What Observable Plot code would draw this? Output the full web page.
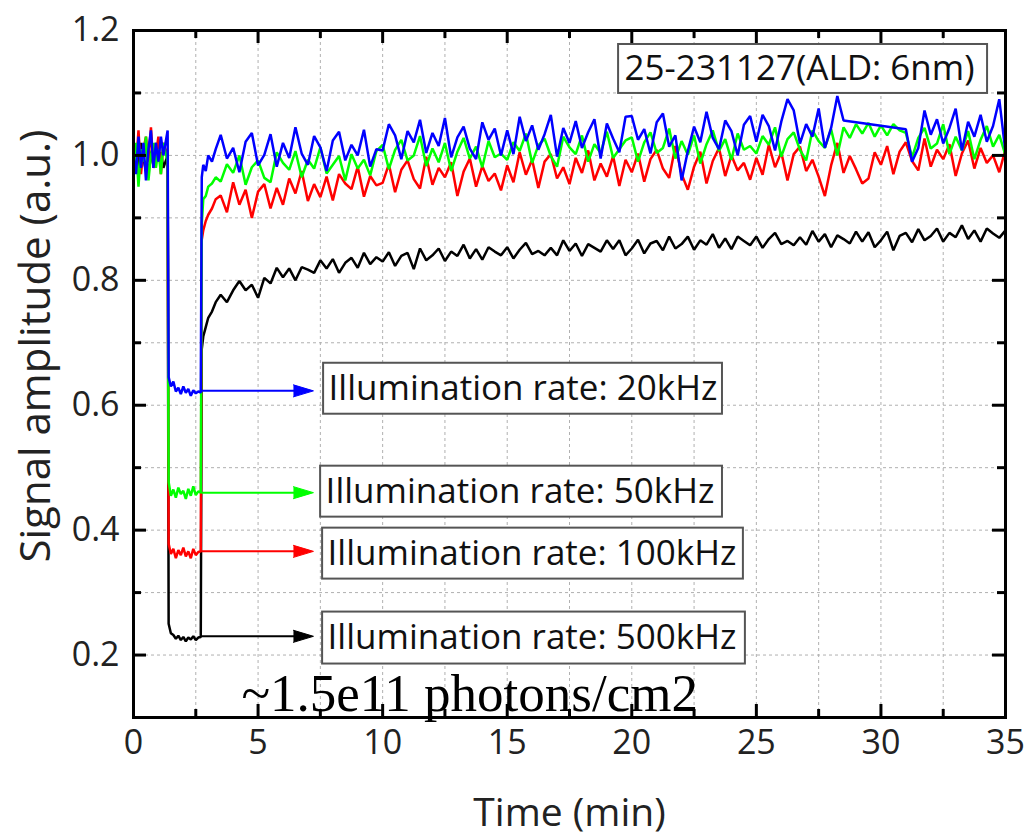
<!DOCTYPE html>
<html><head><meta charset="utf-8">
<script src="https://cdn.jsdelivr.net/npm/d3@7"></script>
<script src="https://cdn.jsdelivr.net/npm/@observablehq/plot@0.6"></script>
<style>body{margin:0;background:#fff}</style>
</head><body><div id="chart"></div>
<script>
// ---- time axis (min) ----
const time = [
  0,0.1,0.2,0.3,0.4,0.5,0.6,0.7,0.8,0.9,1,1.1,1.2,1.37,
  1.41,1.5,1.6,1.7,1.8,1.9,2.0,2.1,2.2,2.3,2.4,2.5,2.6,2.7,
  2.74,2.8,2.9,3.0,3.15,3.3,
  3.5,3.75,4,4.25,4.5,4.75,5,5.25,5.5,5.75,6,6.25,6.5,6.75,7,7.25,7.5,7.75,8,8.25,8.5,8.75,9,9.25,9.5,9.75,
  10,10.25,10.5,10.75,11,11.25,11.5,11.75,12,12.25,12.5,12.75,13,13.25,13.5,13.75,14,14.25,14.5,14.75,
  15,15.25,15.5,15.75,16,16.25,16.5,16.75,17,17.25,17.5,17.75,18,18.25,18.5,18.75,19,19.25,19.5,19.75,
  20,20.25,20.5,20.75,21,21.25,21.5,21.75,22,22.25,22.5,22.75,23,23.25,23.5,23.75,24,24.25,24.5,24.75,
  25,25.25,25.5,25.75,26,26.25,26.5,26.75,27,27.25,27.5,27.75,28,28.25,28.5,28.75,29,29.25,29.5,29.75,
  30,30.25,30.5,30.75,31,31.25,31.5,31.75,32,32.25,32.5,32.75,33,33.25,33.5,33.75,34,34.25,34.5,34.75,35
];

// ---- signal amplitude (a.u.) per illumination rate ----
const rate20k = [
  1.00,0.97,1.03,0.98,1.02,0.96,1.01,1.04,0.98,1.02,0.99,1.03,1.00,1.04,
  0.645,0.630,0.638,0.622,0.628,0.618,0.630,0.620,0.626,0.615,0.624,0.619,0.622,0.620,
  0.965,0.985,0.975,1.00,0.99,1.01,
  1.033,0.995,1.012,0.973,1.022,1.036,0.984,1.001,1.034,0.982,1.02,0.996,1.045,1.003,0.985,1.031,1.013,0.975,1.024,1.038,0.992,1.017,1.0,1.041,0.982,1.01,
  1.008,1.05,1.032,0.994,1.039,1.021,1.057,1.004,1.036,1.015,1.06,0.997,1.029,1.046,1.011,0.994,1.053,1.025,1.043,1.0,
  1.04,1.002,1.062,1.023,1.048,1.009,1.034,1.065,0.998,1.044,1.02,1.055,1.012,1.037,1.058,0.995,1.051,1.027,1.005,1.062,
  1.063,1.025,1.042,1.003,1.053,1.067,1.014,1.032,0.96,1.007,1.046,1.021,1.07,1.028,1.01,1.056,1.039,1.0,1.049,1.063,
  1.022,1.065,1.047,1.008,1.054,1.09,1.072,1.019,1.05,1.03,1.075,1.012,1.044,1.095,1.056,null,null,null,null,null,
  null,null,null,null,1.042,0.99,1.012,1.072,1.033,1.058,1.019,1.044,1.075,1.008,1.054,1.03,1.065,1.022,1.047,1.09,1.005
];
const rate50k = [
  0.97,1.02,0.95,1.01,0.99,1.03,0.96,1.00,1.02,0.98,1.01,0.97,1.02,0.99,
  0.477,0.455,0.465,0.452,0.468,0.458,0.463,0.45,0.466,0.455,0.47,0.456,0.462,0.46,
  0.89,0.93,0.935,0.95,0.955,0.965,
  0.958,0.986,0.972,1.0,0.953,0.981,0.992,0.964,0.957,1.005,0.988,0.977,1.007,0.965,0.993,0.979,1.013,0.971,0.985,0.999,0.96,1.002,0.979,0.993,0.968,1.007,
  1.017,0.978,1.009,1.025,0.992,1.0,1.031,0.983,1.011,0.989,1.02,0.975,1.006,1.028,0.995,1.014,0.981,1.023,0.997,1.003,
  0.993,1.021,1.007,1.035,0.988,1.016,1.027,0.999,0.982,1.03,1.013,1.002,1.032,0.99,1.018,1.004,1.038,0.996,1.01,1.024,
  1.029,0.99,1.021,1.037,1.004,1.012,1.043,0.995,1.023,1.001,1.032,0.987,1.018,1.04,1.007,1.026,0.993,1.035,1.009,1.015,
  1.003,1.031,1.017,1.045,0.998,1.026,1.037,1.009,0.992,1.04,1.023,1.012,1.042,1.0,1.045,1.028,1.05,1.035,1.052,1.03,
  1.048,1.032,1.05,1.04,1.036,0.997,1.028,1.044,1.011,1.019,1.05,1.002,1.03,1.008,1.039,0.994,1.025,1.047,1.014,1.033,1.0
];
const rate100k = [
  1.02,0.98,1.04,0.97,1.01,1.03,0.99,1.045,0.98,1.0,1.03,0.97,1.02,1.0,
  0.378,0.362,0.37,0.355,0.368,0.36,0.372,0.358,0.366,0.355,0.37,0.36,0.365,0.366,
  0.865,0.88,0.895,0.905,0.915,0.93,
  0.936,0.909,0.957,0.921,0.945,0.9,0.942,0.954,0.915,0.948,0.921,0.963,0.939,0.975,0.927,0.954,0.933,0.966,0.928,0.97,0.955,0.946,0.982,0.934,0.967,0.952,
  0.956,0.986,0.941,0.977,0.992,0.962,0.947,0.998,0.953,0.98,0.965,0.989,0.935,0.974,0.995,0.95,0.983,0.959,0.971,0.944,
  0.984,0.957,1.005,0.969,0.993,0.948,0.99,1.002,0.963,0.981,0.954,0.996,0.972,1.008,0.96,0.987,0.966,0.999,0.951,0.993,
  0.973,1.003,0.958,0.994,1.009,0.979,0.964,1.015,0.97,0.945,0.982,1.006,0.955,0.991,1.012,0.967,1.0,0.976,0.988,0.961,
  0.996,0.969,1.017,0.981,1.005,0.96,1.002,1.014,0.975,0.993,0.966,0.935,0.984,1.02,0.972,0.999,0.978,0.955,0.963,1.005,
  0.985,1.015,0.97,1.006,1.021,0.991,0.976,1.027,0.982,1.009,0.994,1.018,0.967,1.003,1.024,0.979,1.012,0.988,1.0,0.973,1.01
];
const rate500k = [
  0.99,1.01,0.98,1.02,0.995,0.975,1.01,1.0,0.985,1.02,0.99,1.005,0.98,1.0,
  0.25,0.235,0.232,0.226,0.231,0.224,0.229,0.222,0.228,0.225,0.23,0.224,0.228,0.229,
  0.69,0.71,0.725,0.74,0.75,0.765,
  0.777,0.765,0.784,0.799,0.784,0.793,0.772,0.804,0.795,0.82,0.805,0.819,0.8,0.821,0.817,0.812,0.832,0.819,0.834,0.812,0.828,0.836,0.82,0.844,0.826,0.837,
  0.83,0.845,0.823,0.839,0.844,0.818,0.851,0.832,0.84,0.851,0.831,0.846,0.839,0.857,0.835,0.85,0.833,0.853,0.846,0.84,
  0.853,0.835,0.849,0.86,0.842,0.847,0.84,0.852,0.84,0.864,0.847,0.859,0.839,0.858,0.852,0.846,0.864,0.85,0.864,0.84,
  0.851,0.865,0.843,0.859,0.863,0.848,0.87,0.851,0.858,0.87,0.849,0.864,0.857,0.874,0.852,0.867,0.85,0.87,0.863,0.856,
  0.87,0.852,0.866,0.876,0.858,0.863,0.856,0.869,0.857,0.879,0.862,0.874,0.853,0.872,0.866,0.859,0.878,0.862,0.877,0.853,
  0.864,0.878,0.848,0.871,0.876,0.861,0.882,0.864,0.871,0.883,0.862,0.876,0.869,0.888,0.866,0.88,0.862,0.883,0.875,0.868,0.88
];

// ---- series order (drawn back to front) and colours ----
const seriesValues = [rate500k, rate100k, rate50k, rate20k];
const seriesColors = ["#000000", "#ff0000", "#00ff00", "#0000ff"];

// ---- ticks ----
const xTickLabels = [0, 5, 10, 15, 20, 25, 30, 35];
const xMinorTicks = [2.5, 7.5, 12.5, 17.5, 22.5, 27.5, 32.5];
const xGrid = [2.5, 5, 7.5, 10, 12.5, 15, 17.5, 20, 22.5, 25, 27.5, 30, 32.5];
const yTickLabels = [0.2, 0.4, 0.6, 0.8, 1.0, 1.2];
const yMinorTicks = [0.3, 0.5, 0.7, 0.9, 1.1];
const yGrid = [0.2, 0.3, 0.4, 0.5, 0.6, 0.7, 0.8, 0.9, 1.0, 1.1];

// ---- annotations ----
const rateLabels = ["Illumination rate: 20kHz", "Illumination rate: 50kHz", "Illumination rate: 100kHz", "Illumination rate: 500kHz"];
const rateLevels = [0.623, 0.46, 0.366, 0.23];
const rateColors = ["#0000ff", "#00ff00", "#ff0000", "#000000"];
const arrowStart = 2.72, arrowHeadBase = 6.42;
const labelBoxes = [
  {x1: 7.63, x2: 23.64, y1: 0.5856, y2: 0.6672},
  {x1: 7.51, x2: 23.64, y1: 0.4208, y2: 0.5024},
  {x1: 7.59, x2: 24.48, y1: 0.3216, y2: 0.4032},
  {x1: 7.59, x2: 24.56, y1: 0.1856, y2: 0.2688}
];
const sampleLabel = "25-231127(ALD: 6nm)";
const sampleBox = {x1: 19.47, x2: 34.28, y1: 1.0992, y2: 1.1776};
const doseLabel = "~1.5e11 photons/cm2";

const W = 1031, H = 835;
const mL = 133, mR = 26, mT = 30, mB = 118;
const fw = W - mL - mR, fh = H - mT - mB;
const sans = "'Open Sans', 'DejaVu Sans', sans-serif";

const marks = [];
// grid
marks.push(Plot.gridX(xGrid, {stroke: "#b0b0b0", strokeOpacity: 1, strokeDasharray: "3,3", strokeWidth: 1}));
marks.push(Plot.gridY(yGrid, {stroke: "#b0b0b0", strokeOpacity: 1, strokeDasharray: "3,3", strokeWidth: 1}));

// series
seriesValues.forEach((vals, k) => {
  const rows = time.map((t, i) => ({t, v: vals[i]})).filter(d => d.v != null && d.v !== undefined);
  marks.push(Plot.line(rows, {x: "t", y: "v", stroke: seriesColors[k], strokeWidth: 2.5, strokeLinejoin: "miter"}));
});

// arrows + label boxes
rateLabels.forEach((lab, k) => {
  const lv = rateLevels[k];
  marks.push(Plot.link([{x1: arrowStart, x2: arrowHeadBase + 0.1, y: lv}], {x1: "x1", x2: "x2", y1: "y", y2: "y", stroke: rateColors[k], strokeWidth: 2}));
  marks.push(Plot.vector([{x: arrowHeadBase, y: lv}], {x: "x", y: "y", length: 20, rotate: 90, shape: "spike", r: 6, anchor: "start", fill: rateColors[k], fillOpacity: 1, stroke: rateColors[k], strokeWidth: 1}));
  const b = labelBoxes[k];
  marks.push(Plot.rect([b], {x1: "x1", x2: "x2", y1: "y1", y2: "y2", fill: "white", stroke: "#555", strokeWidth: 2}));
  marks.push(Plot.text([{x: b.x1, y: (b.y1 + b.y2) / 2, t: lab}], {x: "x", y: "y", text: "t", textAnchor: "start", dx: 5, fontSize: 35, fontFamily: sans, fill: "#111"}));
});
marks.push(Plot.rect([sampleBox], {x1: "x1", x2: "x2", y1: "y1", y2: "y2", fill: "white", stroke: "#555", strokeWidth: 2}));
marks.push(Plot.text([{x: sampleBox.x1, y: (sampleBox.y1 + sampleBox.y2) / 2, t: sampleLabel}], {x: "x", y: "y", text: "t", textAnchor: "start", dx: 6, fontSize: 35, fontFamily: sans, fill: "#111"}));
marks.push(Plot.text([{x: 4.33, y: 0.138, t: doseLabel}], {x: "x", y: "y", text: "t", textAnchor: "start", fontSize: 53, fontFamily: "'Liberation Serif', 'DejaVu Serif', serif", fill: "#000"}));

// frame and inward ticks
marks.push(Plot.frame({stroke: "black", strokeWidth: 3}));
marks.push(Plot.tickX(xTickLabels, {x: d => d, insetTop: fh - 13, stroke: "black", strokeWidth: 3}));
marks.push(Plot.tickX(xMinorTicks, {x: d => d, insetTop: fh - 8, stroke: "black", strokeWidth: 3}));
marks.push(Plot.tickX(xTickLabels, {x: d => d, insetBottom: fh - 13, stroke: "black", strokeWidth: 3}));
marks.push(Plot.tickX(xMinorTicks, {x: d => d, insetBottom: fh - 8, stroke: "black", strokeWidth: 3}));
marks.push(Plot.tickY(yTickLabels, {y: d => d, insetRight: fw - 13, stroke: "black", strokeWidth: 3}));
marks.push(Plot.tickY(yMinorTicks, {y: d => d, insetRight: fw - 8, stroke: "black", strokeWidth: 3}));
marks.push(Plot.tickY(yTickLabels, {y: d => d, insetLeft: fw - 13, stroke: "black", strokeWidth: 3}));
marks.push(Plot.tickY(yMinorTicks, {y: d => d, insetLeft: fw - 8, stroke: "black", strokeWidth: 3}));

// axes (labels only)
marks.push(Plot.axisX(xTickLabels, {tickSize: 0, tickPadding: 12, fontSize: 34, fontFamily: sans, fill: "#222", label: null}));
marks.push(Plot.axisY(yTickLabels, {tickSize: 0, tickPadding: 14, fontSize: 34, fontFamily: sans, fill: "#222", label: null, tickFormat: d3.format(".1f")}));

// axis titles
marks.push(Plot.text(["Time (min)"], {frameAnchor: "bottom", textAnchor: "middle", dy: 96, lineAnchor: "middle", fontSize: 39, fontFamily: sans, fill: "#222"}));
marks.push(Plot.text(["Signal amplitude (a.u.)"], {frameAnchor: "left", textAnchor: "middle", rotate: -90, dx: -97, dy: -28, lineAnchor: "middle", fontSize: 42, fontFamily: sans, fill: "#222"}));

const chart = Plot.plot({
  width: W, height: H,
  marginLeft: mL, marginRight: mR, marginTop: mT, marginBottom: mB,
  x: {domain: [0, 35]},
  y: {domain: [0.1, 1.2]},
  style: {fontFamily: sans, background: "white", overflow: "visible"},
  marks
});
document.getElementById("chart").appendChild(chart);
</script>
</body></html>
